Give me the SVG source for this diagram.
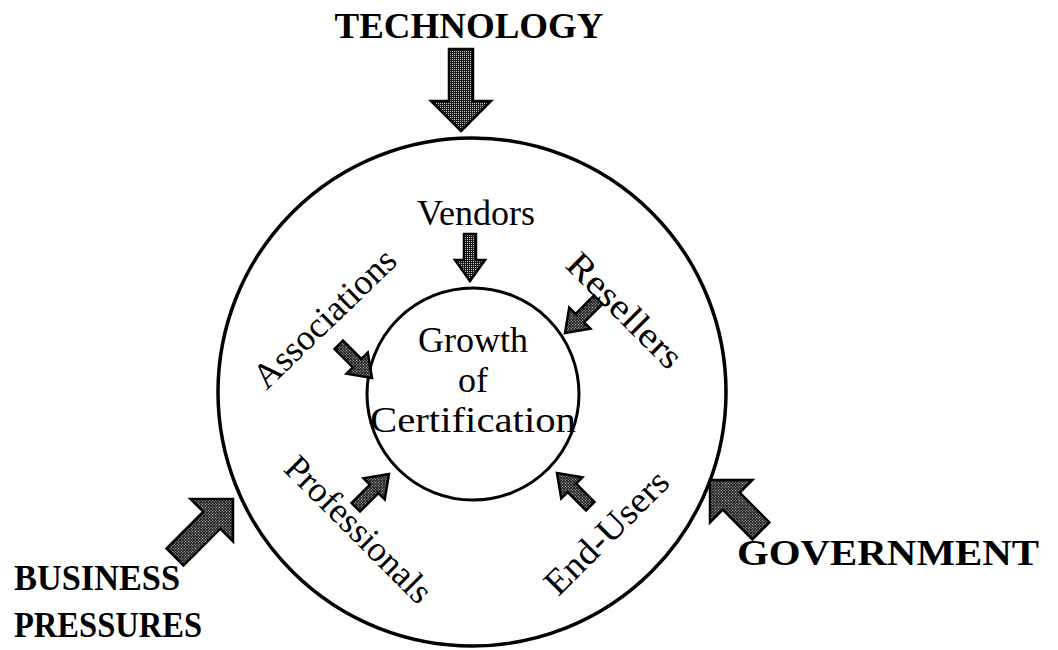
<svg xmlns="http://www.w3.org/2000/svg" xmlns:xlink="http://www.w3.org/1999/xlink" width="1058" height="650" viewBox="0 0 1058 650">
  <style>
    .lbl { font-family: "Liberation Serif", "Times New Roman", serif; font-size: 36px; fill: #000; }
    .big { font-family: "Liberation Serif", "Times New Roman", serif; font-size: 36px; font-weight: bold; fill: #000; }
    .ring { fill: none; stroke: #000; }
    .arr { fill: url(#dots); stroke: #000; stroke-width: 2.5; stroke-linejoin: miter; }
  </style>
  <defs>
    <pattern id="dots" width="2" height="2" patternUnits="userSpaceOnUse">
      <rect width="2" height="2" fill="#1a1a1a"/>
      <rect width="1" height="1" fill="#c8c8c8"/>
    </pattern>
    <path id="bigArrow" d="M0,0 L-30,-30 L-30,-12 L-82,-12 L-82,12 L-30,12 L-30,30 Z"/>
    <path id="bigArrowShort" d="M0,0 L-30,-30 L-30,-12 L-72,-12 L-72,12 L-30,12 L-30,30 Z"/>
    <path id="smallArrow" d="M0,0 L-21,-15 L-21,-6 L-47,-6 L-47,6 L-21,6 L-21,15 Z"/>
  </defs>
  <rect width="1058" height="650" fill="#fff"/>

  <g id="outer-ring">
    <circle class="ring" cx="472" cy="392" r="254" stroke-width="3.5"/>
  </g>

  <g id="center">
    <circle class="ring" cx="473" cy="394" r="106" stroke-width="3"/>
    <text class="lbl" x="473" y="352" text-anchor="middle">Growth</text>
    <text class="lbl" x="473" y="392" text-anchor="middle">of</text>
    <text class="lbl" x="473" y="432" text-anchor="middle" textLength="206" lengthAdjust="spacingAndGlyphs">Certification</text>
  </g>

  <g id="technology">
    <text class="big" x="469" y="38" text-anchor="middle" textLength="269" lengthAdjust="spacingAndGlyphs">TECHNOLOGY</text>
  </g>
  <g id="business-pressures">
    <text class="big" x="14" y="590" font-size="34" textLength="166" lengthAdjust="spacingAndGlyphs">BUSINESS</text>
    <text class="big" x="14" y="637" font-size="34" textLength="188" lengthAdjust="spacingAndGlyphs">PRESSURES</text>
  </g>
  <g id="government">
    <text class="big" x="737" y="565" textLength="302" lengthAdjust="spacingAndGlyphs">GOVERNMENT</text>
  </g>

  <g id="vendors">
    <text class="lbl" x="476" y="225" text-anchor="middle">Vendors</text>
  </g>
  <g id="resellers">
    <text class="lbl" text-anchor="middle" transform="translate(624,311) rotate(45)" y="11" textLength="148" lengthAdjust="spacingAndGlyphs">Resellers</text>
  </g>
  <g id="associations">
    <text class="lbl" text-anchor="middle" transform="translate(325,319) rotate(-44)" y="11">Associations</text>
  </g>
  <g id="professionals">
    <text class="lbl" text-anchor="middle" transform="translate(358,530) rotate(45)" y="11">Professionals</text>
  </g>
  <g id="end-users">
    <text class="lbl" text-anchor="middle" transform="translate(607,533) rotate(-45)" y="11" textLength="160" lengthAdjust="spacingAndGlyphs">End-Users</text>
  </g>

  <g id="connectors">
    <use xlink:href="#bigArrow" href="#bigArrow" class="arr" transform="translate(461,131) rotate(90)"/>
    <use xlink:href="#bigArrow" href="#bigArrow" class="arr" transform="translate(233,499) rotate(-45)"/>
    <use xlink:href="#bigArrowShort" href="#bigArrowShort" class="arr" transform="translate(710,480) rotate(-135)"/>
    <use xlink:href="#smallArrow" href="#smallArrow" class="arr" transform="translate(470,281) rotate(90)"/>
    <use xlink:href="#smallArrow" href="#smallArrow" class="arr" transform="translate(565,333) rotate(135)"/>
    <use xlink:href="#smallArrow" href="#smallArrow" class="arr" transform="translate(372,378) rotate(45)"/>
    <use xlink:href="#smallArrow" href="#smallArrow" class="arr" transform="translate(389,474) rotate(-45)"/>
    <use xlink:href="#smallArrow" href="#smallArrow" class="arr" transform="translate(557,473) rotate(-135)"/>
  </g>
</svg>
